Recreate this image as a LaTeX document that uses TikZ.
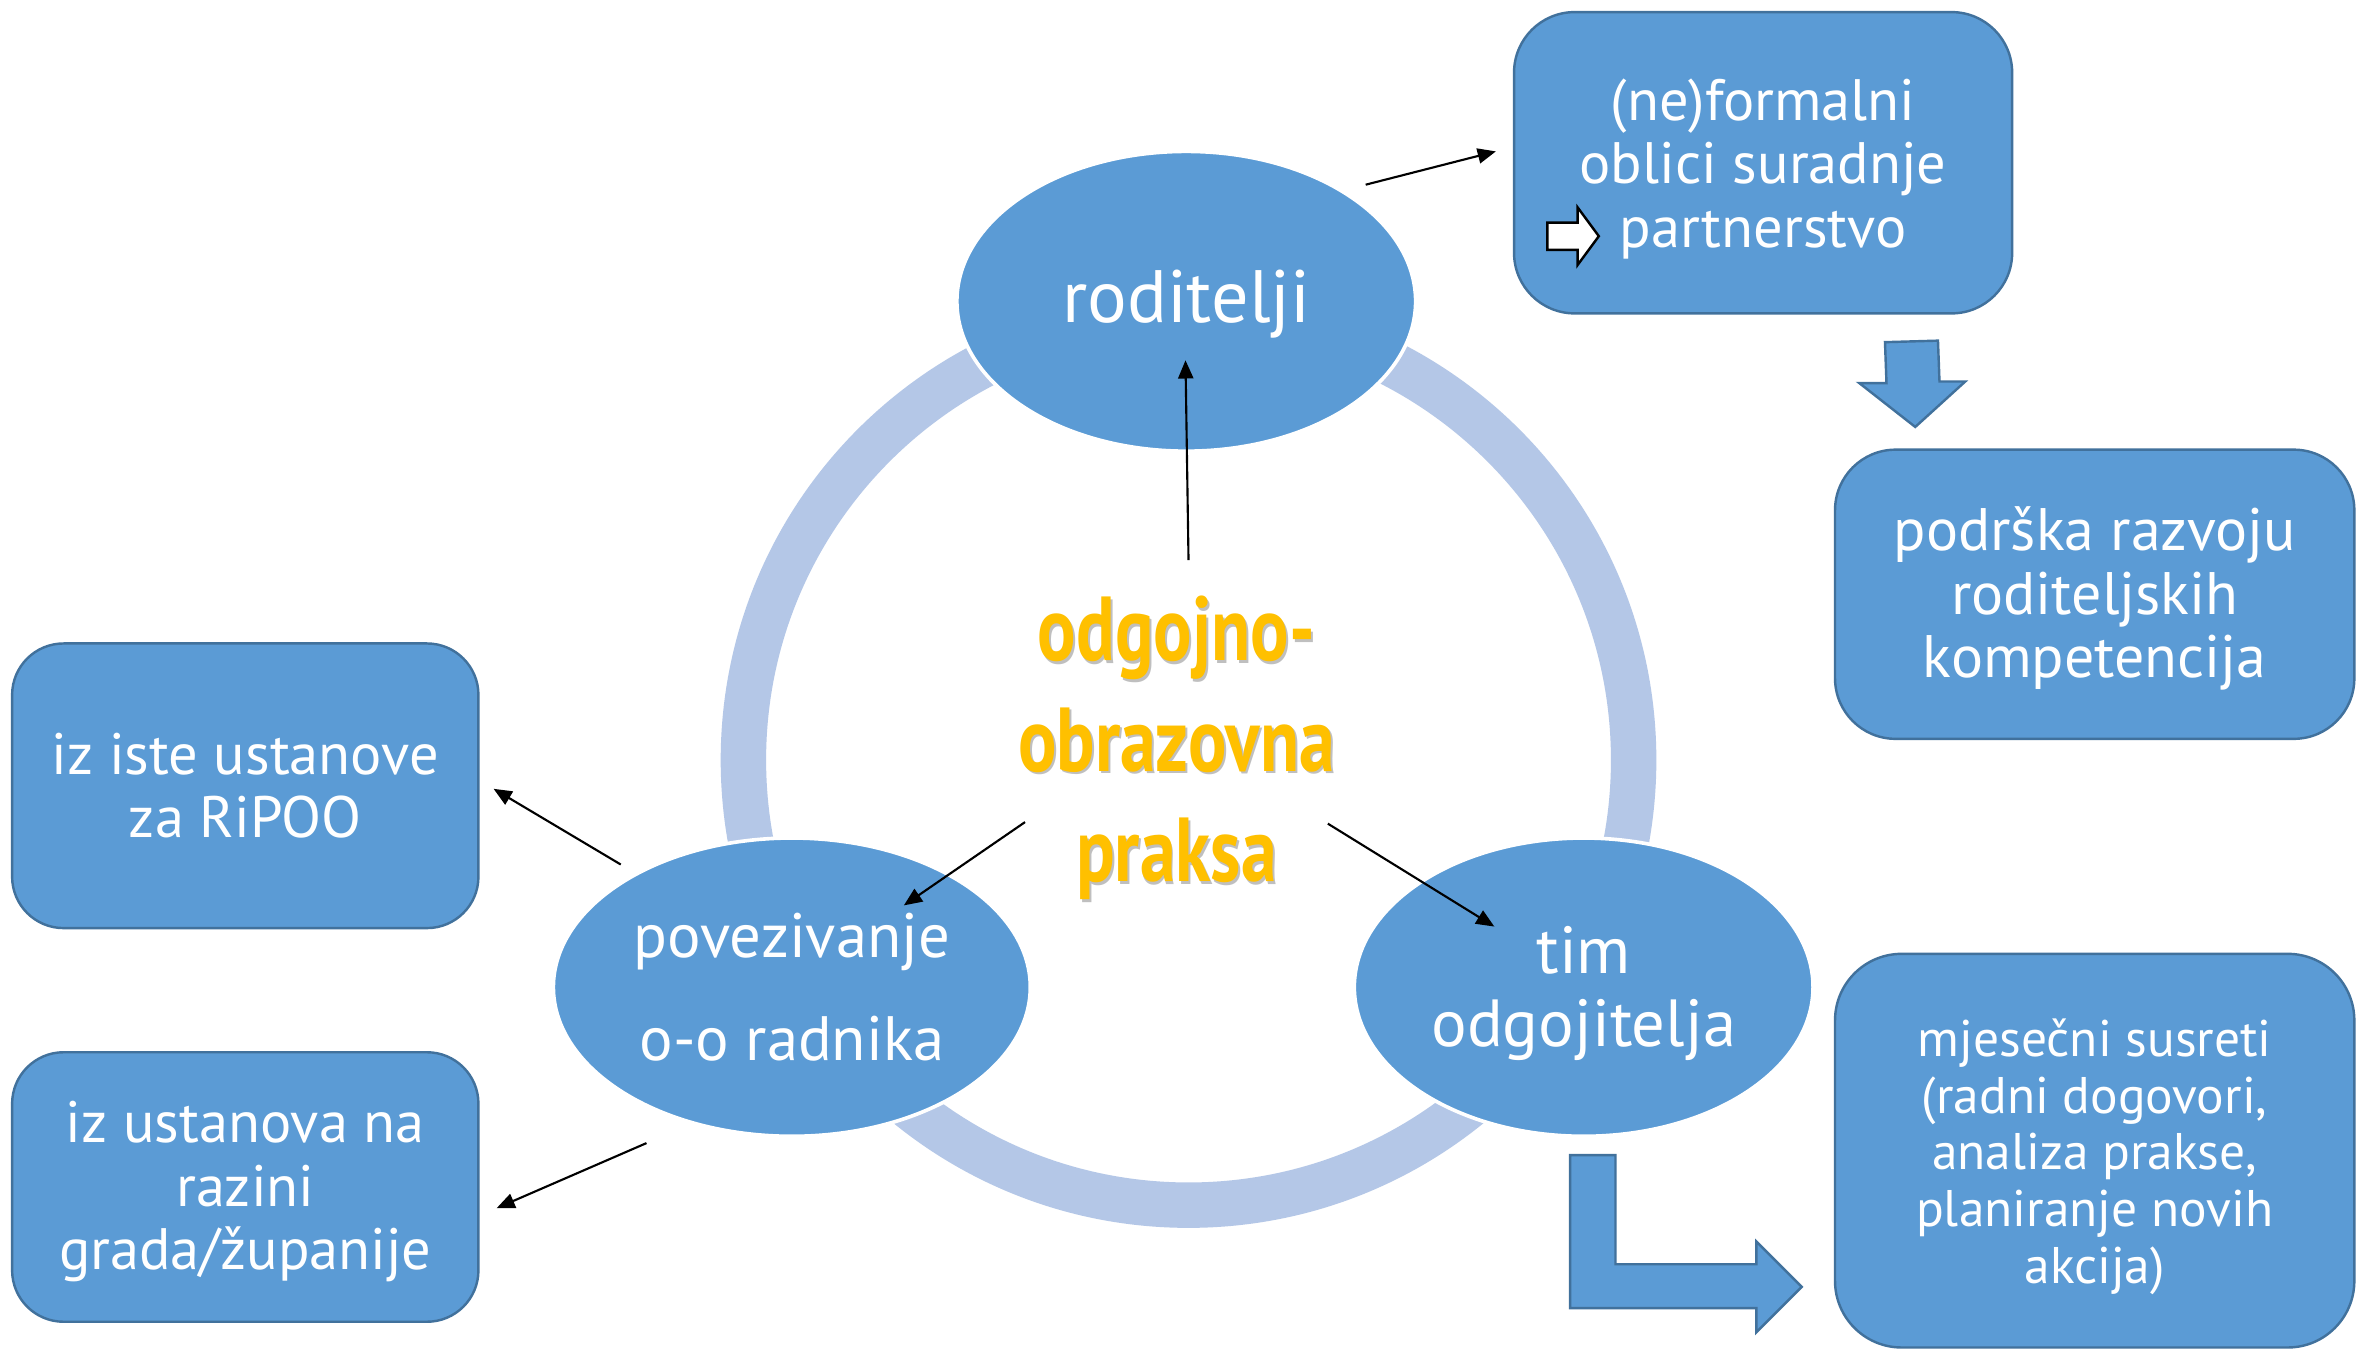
\documentclass[tikz,border=0pt]{standalone}
\usepackage{fontspec}
\setmainfont{PT Sans}
\newfontfamily\centerfont{PT Sans}[FakeStretch=0.79]
\usetikzlibrary{shapes.geometric,arrows.meta}
\definecolor{mblue}{HTML}{5B9BD5}
\definecolor{mborder}{HTML}{41719C}
\definecolor{ring}{HTML}{B4C7E7}
\definecolor{gold}{HTML}{FFC000}
\tikzset{
  box/.style={draw=mborder, line width=0.8pt, fill=mblue, rounded corners=20pt, inner sep=0pt},
  boxtext/.style={text=white, align=center, inner sep=0pt, font=\fontsize{19.3}{21}\selectfont},
  oval/.style={ellipse, draw=white, line width=1.2pt, fill=mblue, text=white, align=center, inner sep=0pt},
  thin/.style={-{Triangle[length=6pt,width=5pt]}, line width=0.7pt, black},
  blockarrow/.style={draw=mborder, line width=0.8pt, fill=mblue},
  centretext/.style={align=center, font=\centerfont\bfseries\fontsize{30}{36.5}\selectfont}
}
\begin{document}
\begin{tikzpicture}[x=0.5pt,y=-0.5pt]
\useasboundingbox (0,0) rectangle (1568,892);
\fill[white] (0,0) rectangle (1568,892);
% ring
\coordinate (ringc) at (785,502);
\draw[ring, line width=15pt] (ringc) circle[radius=147pt];
% ellipses
\node[oval, minimum width=151.5pt, minimum height=99pt] (rod) at (783.5,199) {};
\node[text=white, font=\fontsize{24.5}{26}\selectfont] at ([yshift=-1pt]rod.center) {roditelji};
\node[oval, minimum width=157.5pt, minimum height=98.5pt] (pov) at (523,652) {};
\node[text=white, align=center, font=\fontsize{20.7}{34}\selectfont] at (pov.center) {povezivanje\\o-o radnika};
\node[oval, minimum width=151.5pt, minimum height=98.5pt] (tim) at (1046,652) {};
\node[text=white, align=center, font=\fontsize{22}{24}\selectfont] at ([yshift=-2pt]tim.center) {tim\\odgojitelja};
% boxes
\node[box, minimum width=164.5pt, minimum height=99.5pt] (b1) at (1164.5,107.5) {};
\node[boxtext] at ([yshift=-2pt]b1.center) {(ne)formalni\\oblici suradnje\\partnerstvo};
\node[box, minimum width=171.5pt, minimum height=95.5pt] (b2) at (1383.5,392.5) {};
\node[boxtext, font=\fontsize{19.8}{21}\selectfont] at ([yshift=-1.5pt]b2.center) {podrška razvoju\\roditeljskih\\kompetencija};
\node[box, rounded corners=17pt, minimum width=154pt, minimum height=94pt] (b3) at (162,519) {};
\node[boxtext] at ([yshift=0pt]b3.center) {iz iste ustanove\\za RiPOO};
\node[box, rounded corners=17pt, minimum width=154pt, minimum height=89pt] (b4) at (162,784) {};
\node[boxtext] at ([yshift=-1.5pt]b4.center) {iz ustanova na\\razini\\grada/županije};
\node[box, rounded corners=22pt, minimum width=171.5pt, minimum height=130pt] (b5) at (1383.5,760) {};
\node[boxtext, font=\fontsize{17}{18.75}\selectfont] at ([yshift=-2pt]b5.center) {mjesečni susreti\\(radni dogovori,\\analiza prakse,\\planiranje novih\\akcija)};
% centre text
\node[centretext, text=black!45, opacity=0.55] at (778.3,495.8) {odgojno-\\obrazovna\\praksa};
\node[centretext, text=gold] (ctr) at (777,494) {odgojno-\\obrazovna\\praksa};
% white small arrow in box 1
\draw[fill=white, draw=black, line width=0.8pt] (1022,147) -- (1042,147) -- (1042,137) -- (1056,156) -- (1042,175) -- (1042,165) -- (1022,165) -- cycle;
% block arrow down
\draw[blockarrow] (1245,226) -- (1280,225) -- (1281,252) -- (1298,252) -- (1265,282) -- (1228,253) -- (1246,253) -- cycle;
% bent arrow
\draw[blockarrow] (1037,763) -- (1067,763) -- (1067,835) -- (1160,835) -- (1160,820) -- (1190,850) -- (1160,880) -- (1160,864) -- (1037,864) -- cycle;
% thin arrows
\coordinate (a1s) at (785,370); \coordinate (a1e) at (783,238);
\coordinate (a2s) at (902,122); \coordinate (a2e) at (988,100);
\coordinate (a3s) at (677,543); \coordinate (a3e) at (597,598);
\coordinate (a4s) at (877,544); \coordinate (a4e) at (987,612);
\coordinate (a5s) at (410,571); \coordinate (a5e) at (326,521);
\coordinate (a6s) at (427,755); \coordinate (a6e) at (328,798);
\draw[thin] (a1s) -- (a1e);
\draw[thin] (a2s) -- (a2e);
\draw[thin] (a3s) -- (a3e);
\draw[thin] (a4s) -- (a4e);
\draw[thin] (a5s) -- (a5e);
\draw[thin] (a6s) -- (a6e);
\end{tikzpicture}
\end{document}
